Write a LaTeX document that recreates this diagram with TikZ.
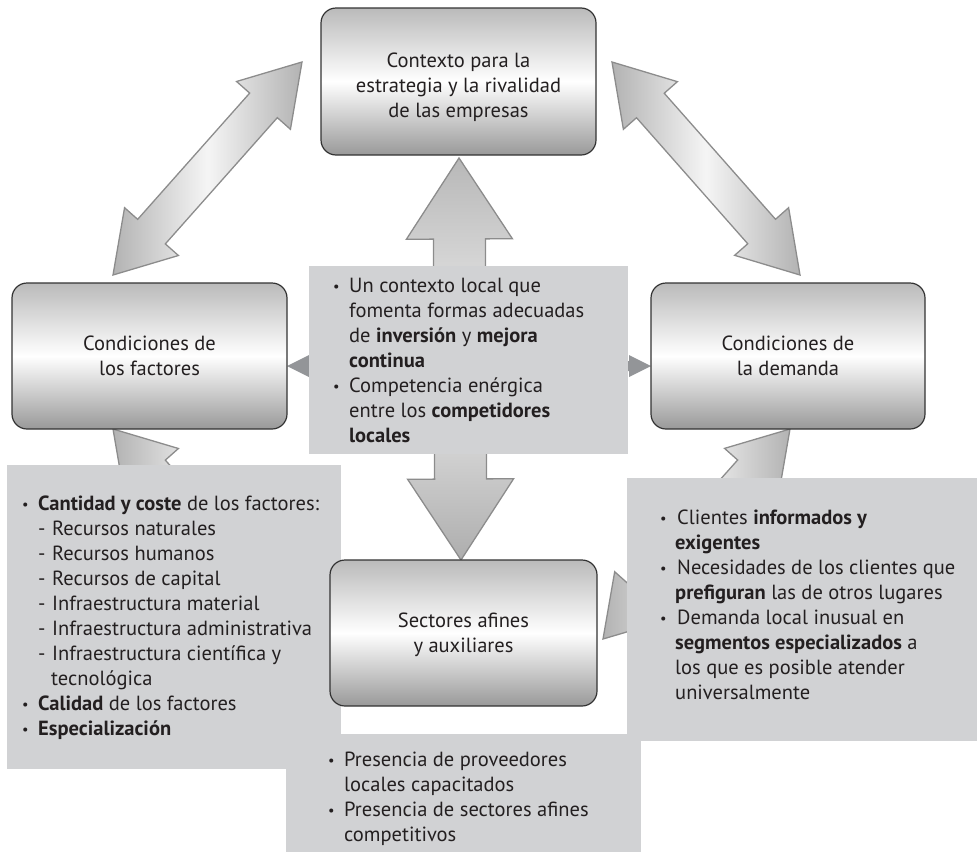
\documentclass[tikz,border=0pt]{standalone}
\usepackage{fontspec}
\setmainfont{PT Sans}
\usetikzlibrary{calc}
\definecolor{txtbg}{HTML}{D1D2D4}
\definecolor{arrbd}{HTML}{8C8C8C}
\definecolor{darktri}{HTML}{939598}
\definecolor{ink}{HTML}{231F20}
\definecolor{boxbd}{HTML}{333333}
\newcommand\bul[1][16pt]{\makebox[#1][l]{\raisebox{0.5pt}{\scalebox{0.7}{•}}}}
\newcommand\ind[1][16pt]{\hspace*{#1}}
\newcommand\dsh{\hspace*{16pt}\makebox[14pt][l]{-}}
% double block arrow: #1 tip A, #2 tip B, #3 head length, #4 head half width, #5 shaft half width, #6 style
\newcommand\dblarrow[6]{%
  \path[#6] (#1)
   -- ($(#1)!#3!(#2)!#4!90:(#2)$) -- ($(#1)!#3!(#2)!#5!90:(#2)$)
   -- ($(#2)!#3!(#1)!#5!-90:(#1)$) -- ($(#2)!#3!(#1)!#4!-90:(#1)$)
   -- (#2)
   -- ($(#2)!#3!(#1)!#4!90:(#1)$) -- ($(#2)!#3!(#1)!#5!90:(#1)$)
   -- ($(#1)!#3!(#2)!#5!-90:(#2)$) -- ($(#1)!#3!(#2)!#4!-90:(#2)$)
   -- cycle;}
\begin{document}
\begin{tikzpicture}[x=1pt,y=-1pt,
  font=\fontsize{20.5}{25}\selectfont, text=ink,
  boxstyle/.style={draw=boxbd, line width=1.2pt, rounded corners=15pt,
     top color=black!27, bottom color=black!40, middle color=white, inner sep=0pt},
  panel/.style={fill=txtbg, draw=none},
  diagarrow/.style={draw=arrbd, line width=1.3pt, left color=black!30, right color=black!30, middle color=black!4},
  vertarrow/.style={draw=arrbd, line width=1.3pt, top color=black!28, bottom color=black!32, middle color=black!6},
  darkarrow/.style={fill=darktri, draw=none},
  lbl/.style={inner sep=0pt, anchor=base}
]
\useasboundingbox (0,0) rectangle (977,857);
% arrow end points
\coordinate (tlA) at (113,275); \coordinate (tlB) at (302,62);
\coordinate (trA) at (800,275); \coordinate (trB) at (612,62);
\coordinate (blA) at (113,429); \coordinate (blB) at (302,642);
\coordinate (brA) at (790,429); \coordinate (brB) at (603,639);
\coordinate (cA) at (459,158);  \coordinate (cB) at (461,560);
\coordinate (hA) at (287,366);  \coordinate (hB) at (651,366);
% block arrows
\dblarrow{tlA}{tlB}{58pt}{36pt}{18.5pt}{diagarrow}
\dblarrow{trA}{trB}{58pt}{36pt}{18.5pt}{diagarrow}
\dblarrow{blA}{blB}{58pt}{36pt}{18.5pt}{diagarrow}
\dblarrow{brA}{brB}{58pt}{36pt}{18.5pt}{diagarrow}
\dblarrow{cA}{cB}{81pt}{53pt}{26pt}{vertarrow}
\dblarrow{hA}{hB}{22pt}{11pt}{5pt}{darkarrow}
% grey text panels
\path[panel] (309,266) rectangle (628,454);
\path[panel] (7,465) rectangle (341,769);
\path[panel] (627,478) rectangle (977,741);
\path[panel] (286,734) rectangle (641,852);
% main boxes
\node[boxstyle, minimum width=275pt, minimum height=147pt] (ctx) at (458.5,81.5) {};
\node[boxstyle, minimum width=275pt, minimum height=146pt] (fac) at (149.5,356) {};
\node[boxstyle, minimum width=274pt, minimum height=146pt] (dem) at (788,356) {};
\node[boxstyle, minimum width=267pt, minimum height=146pt] (sec) at (463.5,633) {};
% box titles
\node[lbl] (ctxt) at (458.5,67) {\begin{tabular}[t]{@{}c@{}}Contexto para la\\estrategia y la rivalidad\\de las empresas\end{tabular}};
\node[lbl] (fact) at (149.5,350) {\begin{tabular}[t]{@{}c@{}}Condiciones de\\los factores\end{tabular}};
\node[lbl] (demt) at (788,350) {\begin{tabular}[t]{@{}c@{}}Condiciones de\\la demanda\end{tabular}};
\node[lbl] (sect) at (463.5,627) {\begin{tabular}[t]{@{}c@{}}Sectores afines\\y auxiliares\end{tabular}};
% panel texts
\node[inner sep=0pt, anchor=base west] (cpt) at (333,292) {\begin{tabular}[t]{@{}l@{}}%
\bul Un contexto local que\\
\ind fomenta formas adecuadas\\
\ind de \textbf{inversión} y \textbf{mejora}\\
\ind\textbf{continua}\\
\bul Competencia enérgica\\
\ind entre los \textbf{competidores}\\
\ind\textbf{locales}\end{tabular}};
\node[inner sep=0pt, anchor=base west] (lpt) at (22,510) {\begin{tabular}[t]{@{}l@{}}%
\bul\textbf{Cantidad y coste} de los factores:\\
\dsh Recursos naturales\\
\dsh Recursos humanos\\
\dsh Recursos de capital\\
\dsh Infraestructura material\\
\dsh Infraestructura administrativa\\
\dsh Infraestructura científica y\\
\ind[29pt]tecnológica\\
\bul\textbf{Calidad} de los factores\\
\bul\textbf{Especialización}\end{tabular}};
\node[inner sep=0pt, anchor=base west] (rpt) at (660,524) {\begin{tabular}[t]{@{}l@{}}%
\bul[17pt]Clientes \textbf{informados y}\\
\ind[15pt]\textbf{exigentes}\\
\bul[17pt]Necesidades de los clientes que\\
\ind[15pt]\textbf{prefiguran} las de otros lugares\\
\bul[17pt]Demanda local inusual en\\
\ind[15pt]\textbf{segmentos especializados} a\\
\ind[15pt]los que es posible atender\\
\ind[15pt]universalmente\end{tabular}};
\node[inner sep=0pt, anchor=base west] (bpt) at (328,766) {\begin{tabular}[t]{@{}l@{}}%
\bul Presencia de proveedores\\
\ind locales capacitados\\
\bul Presencia de sectores afines\\
\ind competitivos\end{tabular}};
\end{tikzpicture}
\end{document}
